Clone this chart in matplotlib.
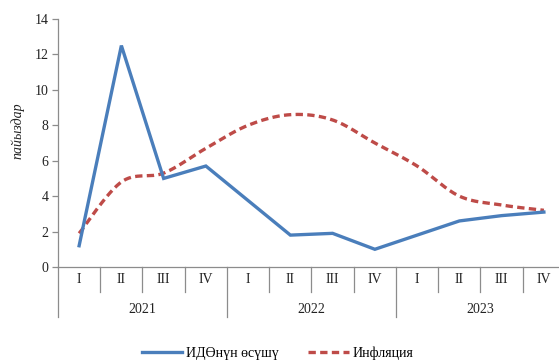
import numpy as np
import matplotlib
matplotlib.use("Agg")
import matplotlib.pyplot as plt
from matplotlib.transforms import blended_transform_factory

plt.rcParams['font.family'] = ['Liberation Serif', 'DejaVu Serif']

years = ['2021', '2022', '2023']
quarters = ['I', 'II', 'III', 'IV']
gdp_growth = [1.2, 12.5, 5.0, 5.7, 3.75, 1.8, 1.9, 1.0, 1.8, 2.6, 2.9, 3.1]
inflation = [1.9, 4.8, 5.3, 6.7, 8.0, 8.6, 8.3, 7.0, 5.7, 4.0, 3.5, 3.2]


def smooth(x, y, n=30):
    # Catmull-Rom curve through the points, like a "smoothed line" series
    x = np.asarray(x, float)
    y = np.asarray(y, float)
    px = np.concatenate([[x[0]], x, [x[-1]]])
    py = np.concatenate([[y[0]], y, [y[-1]]])
    xs, ys = [], []
    t = np.linspace(0, 1, n)
    for i in range(1, len(px) - 2):
        for p, out in ((px, xs), (py, ys)):
            p0, p1, p2, p3 = p[i - 1], p[i], p[i + 1], p[i + 2]
            out.extend(0.5 * ((2 * p1) + (-p0 + p2) * t
                              + (2 * p0 - 5 * p1 + 4 * p2 - p3) * t ** 2
                              + (-p0 + 3 * p1 - 3 * p2 + p3) * t ** 3))
    return np.array(xs), np.array(ys)


fs = 10
fig = plt.figure(figsize=(5.59, 3.63), dpi=100)
ax = fig.add_axes([58 / 559, 96 / 363, 507 / 559, 248 / 363])

x = np.arange(len(gdp_growth)) + 0.5
ax.plot(x, gdp_growth, color='#4a7ebb', lw=2.4, solid_joinstyle='miter',
        label='ИДӨнүн өсүшү', zorder=3)
sx, sy = smooth(x, inflation)
ax.plot(sx, sy, color='#be4b48', lw=2.4, ls=(0, (2.2, 1.3)),
        label='Инфляция', zorder=2)

ax.set_xlim(0, 12)
ax.set_ylim(0, 14)
ax.set_yticks(range(0, 15, 2))
ax.set_xticks([])
gray = '#8c8c8c'
for s in ['top', 'right']:
    ax.spines[s].set_visible(False)
for s in ['left', 'bottom']:
    ax.spines[s].set_color(gray)
    ax.spines[s].set_linewidth(0.9)
ax.tick_params(axis='y', direction='out', length=4, width=0.9, color=gray,
               labelsize=fs, pad=3, labelcolor='#222222')
ax.set_ylabel('пайыздар', fontsize=fs, style='italic', color='#222222')
ax.yaxis.set_label_coords(-0.066, 0.55)

# two-level category axis: quarters, then years
tr = blended_transform_factory(ax.transData, ax.transAxes)
for i in range(13):
    low = -0.2 if i % 4 == 0 else -0.1
    ax.plot([i, i], [0, low], color=gray, lw=0.9, transform=tr, clip_on=False)
for yi, yr in enumerate(years):
    for qi, q in enumerate(quarters):
        ax.text(yi * 4 + qi + 0.5, -0.05, q, transform=tr, ha='center',
                va='center', fontsize=fs, color='#222222')
    ax.text(yi * 4 + 2, -0.17, yr, transform=tr, ha='center', va='center',
            fontsize=fs, color='#222222')

fig.legend(loc='center', bbox_to_anchor=(0.497, 0.026), ncol=2,
           frameon=False, fontsize=fs, handlelength=2.9, columnspacing=2.1,
           handletextpad=0.3)

fig.savefig('out.png', dpi=100)
